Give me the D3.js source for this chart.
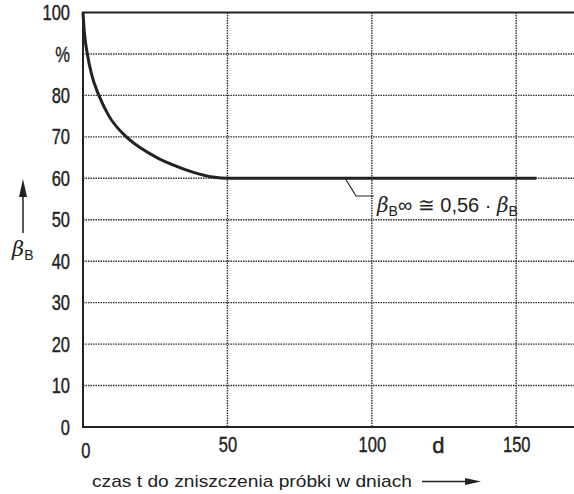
<!DOCTYPE html>
<html>
<head>
<meta charset="utf-8">
<script src="https://cdn.jsdelivr.net/npm/d3@7"></script>
<style>
  body { margin: 0; background: #fff; }
  text { fill: #222; }
</style>
</head>
<body>
<div id="viz"></div>
<script>
// data
var days   = [0, 0.5, 1.5, 3, 5.5, 9, 15, 20, 25.6, 32, 38, 45, 50, 157];
var betaB  = [100, 95, 90, 85, 80, 75, 70, 67.3, 65, 63, 61.5, 60.3, 60, 60];
var yTicks = [0, 10, 20, 30, 40, 50, 60, 70, 80, 90, 100];
var yTickLabels = ["0", "10", "20", "30", "40", "50", "60", "70", "80", "%", "100"];
var xTicks = [0, 50, 100, 150];
var xUnit = {value: 123, label: "d"};

var W = 574, H = 494;
var margin = {top: 12.5, left: 83, bottom: 67, right: 0};

var svg = d3.select("#viz")
  .append("svg")
  .attr("width", W)
  .attr("height", H);

var x = d3.scaleLinear().domain([0, 170]).range([margin.left, W]);
var y = d3.scaleLinear().domain([0, 100]).range([H - margin.bottom, margin.top]);

var tickFont = "'Liberation Sans', Arial, sans-serif";

// horizontal grid (dotted)
svg.append("g")
  .selectAll("line")
  .data(yTicks.filter(function(d) { return d > 0 && d < 100; }))
  .enter().append("line")
  .attr("x1", x(0)).attr("x2", W)
  .attr("y1", function(d) { return y(d); })
  .attr("y2", function(d) { return y(d); })
  .attr("stroke", "#333")
  .attr("stroke-width", 1.4)
  .attr("stroke-dasharray", "1.5,1");

// vertical grid (dotted)
svg.append("g")
  .selectAll("line")
  .data(xTicks.filter(function(d) { return d > 0; }))
  .enter().append("line")
  .attr("x1", function(d) { return x(d); })
  .attr("x2", function(d) { return x(d); })
  .attr("y1", y(100)).attr("y2", y(0))
  .attr("stroke", "#333")
  .attr("stroke-width", 1.4)
  .attr("stroke-dasharray", "1.5,1");

// frame: left axis, bottom axis, top line
svg.append("path")
  .attr("d", "M" + W + "," + y(100) + "H" + x(0) + "V" + y(0) + "H" + W)
  .attr("fill", "none")
  .attr("stroke", "#222")
  .attr("stroke-width", 2);

// Y axis labels (narrow lettering, squeezed horizontally)
var yAxis = svg.append("g")
  .attr("transform", "translate(" + (x(0) - 13) + ",0)")
  .call(d3.axisLeft(y).tickValues(yTicks).tickSize(0).tickPadding(0)
    .tickFormat(function(d, i) { return yTickLabels[i]; }));
yAxis.select(".domain").remove();
yAxis.selectAll("text")
  .attr("fill", "#222")
  .attr("x", 0)
  .attr("transform", "scale(0.75,1)")
  .attr("stroke", "#222")
  .attr("stroke-width", 0.4)
  .style("font-family", tickFont)
  .style("font-size", "22px");

// X axis labels
var xAxis = svg.append("g")
  .attr("transform", "translate(0," + (y(0) + 9) + ")")
  .call(d3.axisBottom(x).tickValues(xTicks).tickSize(0).tickPadding(0));
xAxis.select(".domain").remove();
xAxis.selectAll(".tick text")
  .attr("fill", "#222")
  .attr("transform", "scale(0.75,1)")
  .attr("stroke", "#222")
  .attr("stroke-width", 0.4)
  .style("font-family", tickFont)
  .style("font-size", "22px");
xAxis.selectAll(".tick").filter(function(d) { return d === 0; })
  .select("text").attr("dx", 3).attr("dy", "1.0em");

svg.append("text")
  .attr("x", x(xUnit.value))
  .attr("y", y(0) + 26)
  .attr("text-anchor", "middle")
  .attr("stroke", "#222")
  .attr("stroke-width", 0.4)
  .style("font-family", tickFont)
  .style("font-size", "22px")
  .text(xUnit.label);

// curve
svg.append("path")
  .datum(days.map(function(d, i) { return [d, betaB[i]]; }))
  .attr("fill", "none")
  .attr("stroke", "#222")
  .attr("stroke-width", 3)
  .attr("d", d3.line()
    .x(function(d) { return x(d[0]); })
    .y(function(d) { return y(d[1]); })
    .curve(d3.curveMonotoneX));

// annotation leader and text
svg.append("path")
  .attr("d", "M345,178 L356,196 H374")
  .attr("fill", "none")
  .attr("stroke", "#222")
  .attr("stroke-width", 1.2);

var ann = svg.append("text")
  .attr("x", 377)
  .attr("y", 212)
  .style("font-family", "'Liberation Sans', sans-serif")
  .style("font-size", "20px");
ann.append("tspan").style("font-style", "italic").style("font-family", "'DejaVu Serif', serif").text("β");
ann.append("tspan").attr("dy", 4).style("font-size", "14px").text("B");
ann.append("tspan").attr("dy", -4).text("∞ ≅ 0,56 · ");
ann.append("tspan").style("font-style", "italic").style("font-family", "'DejaVu Serif', serif").text("β");
ann.append("tspan").attr("dy", 4).style("font-size", "14px").text("B");

// y axis name with arrow
var yName = svg.append("text")
  .attr("x", 12)
  .attr("y", 256)
  .style("font-size", "21px");
yName.append("tspan").style("font-style", "italic").style("font-family", "'DejaVu Serif', serif").text("β");
yName.append("tspan").attr("dy", 4).style("font-size", "14px")
  .style("font-family", "'Liberation Sans', sans-serif").text("B");

svg.append("line")
  .attr("x1", 23).attr("x2", 23).attr("y1", 233).attr("y2", 192)
  .attr("stroke", "#222").attr("stroke-width", 1.5);
svg.append("path")
  .attr("d", "M23,179 L19,197 H27 Z")
  .attr("fill", "#222");

// x axis name with arrow
svg.append("text")
  .attr("x", 92)
  .attr("y", 487)
  .attr("textLength", 320)
  .attr("lengthAdjust", "spacingAndGlyphs")
  .style("font-family", "'Liberation Sans', sans-serif")
  .style("font-size", "17px")
  .text("czas t do zniszczenia próbki w dniach");

svg.append("line")
  .attr("x1", 422).attr("x2", 470).attr("y1", 481.5).attr("y2", 481.5)
  .attr("stroke", "#222").attr("stroke-width", 1.3);
svg.append("path")
  .attr("d", "M481,481.5 L465,478 V485 Z")
  .attr("fill", "#222");
</script>
</body>
</html>
